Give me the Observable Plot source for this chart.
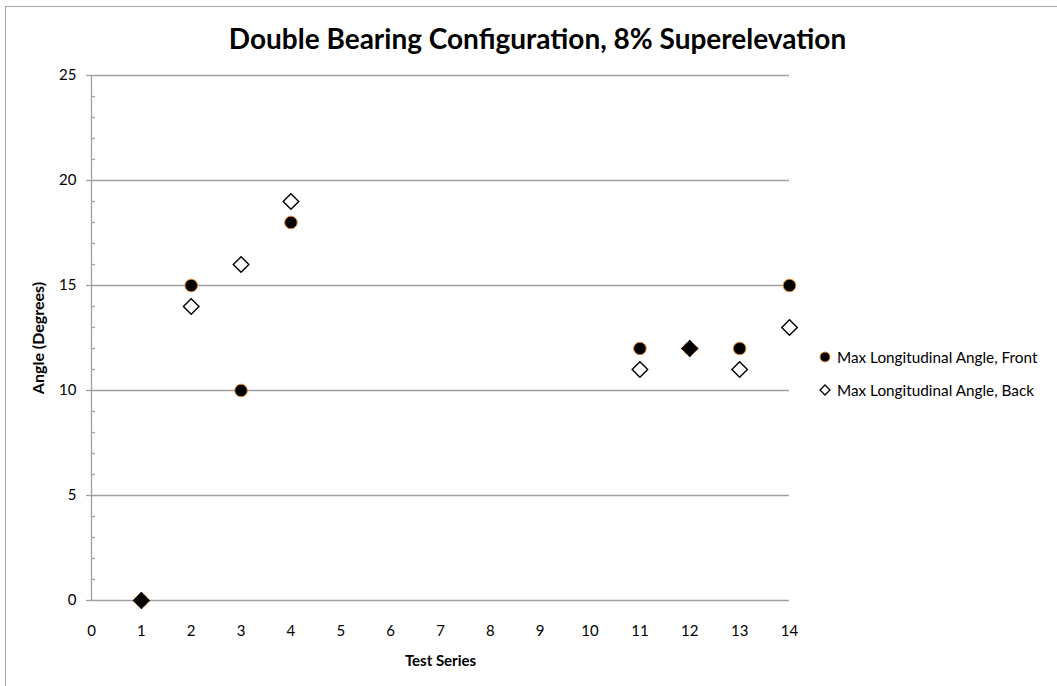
<!DOCTYPE html>
<html>
<head>
<meta charset="utf-8">
<script src="https://cdn.jsdelivr.net/npm/d3@7"></script>
<script src="https://cdn.jsdelivr.net/npm/@observablehq/plot@0.6"></script>
<style>
  html, body { margin: 0; padding: 0; background: #fff; overflow: hidden; }
  #wrap { position: relative; width: 1057px; height: 686px; font-family: Lato, "Open Sans", sans-serif; }
  #border { position: absolute; left: 5px; top: 6px; width: 1070px; height: 700px; border: 1px solid #a6a6a6; box-sizing: border-box; }
  #chart { position: absolute; left: 0; top: 0; }
  #legend { position: absolute; left: 818px; top: 347px; font-size: 15.3px; color: #000; }
  .item { display: flex; align-items: center; height: 20px; margin-bottom: 13px; white-space: nowrap; }
  .item svg { margin-right: 5px; }
</style>
</head>
<body>
<div id="wrap">
  <div id="border"></div>
  <div id="chart"></div>
  <div id="legend"></div>
</div>
<script>
const title = "Double Bearing Configuration, 8% Superelevation";
const xLabel = "Test Series";
const yLabel = "Angle (Degrees)";
const seriesNames = ["Max Longitudinal Angle, Front", "Max Longitudinal Angle, Back"];
const testSeries = [1, 2, 3, 4, 11, 12, 13, 14];
const frontAngle = [0, 15, 10, 18, 12, 12, 12, 15];
const backAngle = [0, 14, 16, 19, 11, 12, 11, 13];
const xTicks = [0, 1, 2, 3, 4, 5, 6, 7, 8, 9, 10, 11, 12, 13, 14];
const yTicks = [0, 5, 10, 15, 20, 25];
const yMinor = d3.range(0, 26).filter(v => v % 5 !== 0);

const front = testSeries.map((x, i) => ({x, y: frontAngle[i]}));
const back = testSeries.map((x, i) => ({x, y: backAngle[i], same: backAngle[i] === frontAngle[i]}));

const grid = "#a0a0a0";
const orange = "#e8892f";

const chart = Plot.plot({
  width: 1057,
  height: 686,
  marginLeft: 91,
  marginRight: 268,
  marginTop: 75,
  marginBottom: 86,
  style: {fontFamily: "Lato, 'Open Sans', sans-serif", fontSize: "15px", color: "#000", background: "transparent", overflow: "visible"},
  x: {domain: [0, 14]},
  y: {domain: [0, 25]},
  marks: [
    Plot.ruleY(yTicks, {stroke: grid, strokeWidth: 1.3}),
    Plot.ruleX([0], {y1: 0, y2: 25, stroke: grid, strokeWidth: 1.3}),
    Plot.ruleY(yMinor, {x1: 0, x2: 0.08, stroke: grid, strokeWidth: 1.2}),
    Plot.axisY({ticks: yTicks, tickSize: 5, text: null, label: null, stroke: grid, strokeWidth: 1.3}),
    Plot.axisY({ticks: yTicks, tickSize: 0, tickPadding: 15, label: null, fontSize: 15}),
    Plot.axisX({ticks: xTicks, tickSize: 0, tickPadding: 25, label: null, tickFormat: d => String(d), fontSize: 15}),
    Plot.text([xLabel], {text: d => d, frameAnchor: "bottom", textAnchor: "middle", lineAnchor: "middle", dy: 61, fontWeight: "bold", fontSize: 15}),
    Plot.text([yLabel], {text: d => d, frameAnchor: "left", textAnchor: "middle", lineAnchor: "middle", dx: -53, rotate: -90, fontWeight: "bold", fontSize: 16}),
    Plot.text([title], {text: d => d, frameAnchor: "top", textAnchor: "middle", lineAnchor: "middle", dx: 97, dy: -35, fontWeight: "bold", fontSize: 28}),
    Plot.dot(back, {x: "x", y: "y", symbol: "diamond2", r: 7, stroke: "#000", strokeWidth: 1.4, fill: d => d.same ? "#000" : "#fff"}),
    Plot.dot(front, {x: "x", y: "y", symbol: "circle", r: 6.3, fill: "#000", stroke: orange, strokeWidth: 1}),
    Plot.dot(back.filter(d => d.same), {x: "x", y: "y", symbol: "diamond2", r: 7, stroke: "#000", strokeWidth: 1, fill: "#000"})
  ]
});
document.getElementById("chart").appendChild(chart);

const legend = document.getElementById("legend");
legend.innerHTML = `
  <div class="item"><svg width="14" height="14"><circle cx="7" cy="7" r="5" fill="#000" stroke="${orange}" stroke-width="1"/></svg><span>${seriesNames[0]}</span></div>
  <div class="item"><svg width="14" height="14"><path d="M7,2L12,7L7,12L2,7Z" fill="#fff" stroke="#000" stroke-width="1.3"/></svg><span>${seriesNames[1]}</span></div>`;
</script>
</body>
</html>
